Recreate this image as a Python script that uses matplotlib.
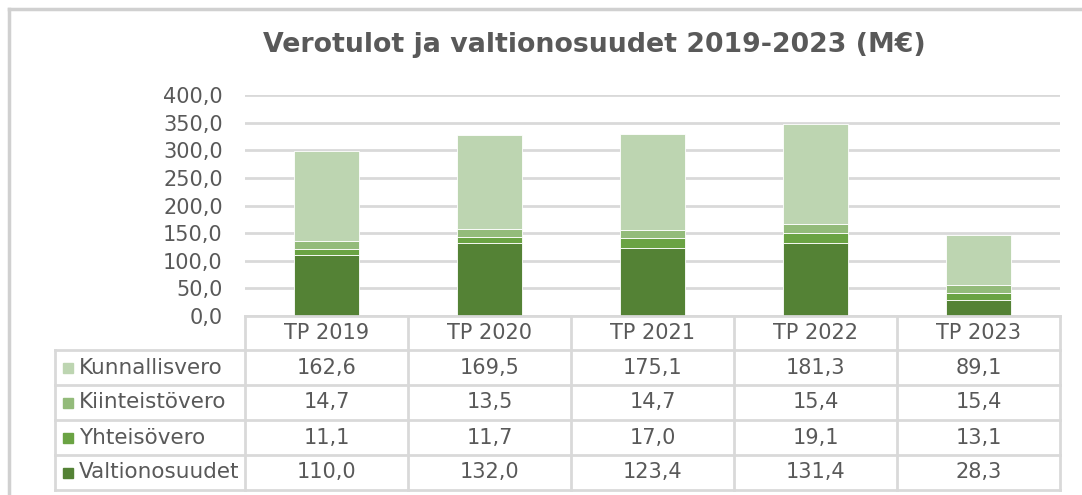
import matplotlib
matplotlib.use("Agg")
import matplotlib.pyplot as plt
from matplotlib.transforms import blended_transform_factory
from matplotlib.lines import Line2D
from matplotlib.patches import Rectangle

categories = ["TP 2019", "TP 2020", "TP 2021", "TP 2022", "TP 2023"]
series_names = ["Valtionosuudet", "Yhteisövero", "Kiinteistövero", "Kunnallisvero"]
valtionosuudet = [110.0, 132.0, 123.4, 131.4, 28.3]
yhteisovero = [11.1, 11.7, 17.0, 19.1, 13.1]
kiinteistovero = [14.7, 13.5, 14.7, 15.4, 15.4]
kunnallisvero = [162.6, 169.5, 175.1, 181.3, 89.1]
series_values = [valtionosuudet, yhteisovero, kiinteistovero, kunnallisvero]
colors = ["#548235", "#6AA343", "#93BB7A", "#BDD5B1"]
yticks = [0, 50, 100, 150, 200, 250, 300, 350, 400]

TXT = "#595959"
GRID = "#D9D9D9"
W, H = 1082, 495
FS = 15
plt.rcParams['font.family'] = ['DejaVu Sans']

fig = plt.figure(figsize=(W / 100, H / 100), dpi=100)

def fx(px):
    return px / W

def fy(py):
    return 1 - py / H

ax = fig.add_axes([fx(245), fy(316), fx(1060) - fx(245), fy(95) - fy(316)])
ax.set_xlim(-0.5, len(categories) - 0.5)
ax.set_ylim(0, 400)

bottom = [0.0] * len(categories)
for name, vals, c in zip(series_names, series_values, colors):
    ax.bar(range(len(categories)), vals, bottom=bottom, width=0.4, color=c,
           edgecolor="white", linewidth=0.6, label=name, zorder=3)
    bottom = [b + v for b, v in zip(bottom, vals)]

ax.set_yticks(yticks)
ax.set_yticklabels([f"{v:.1f}".replace(".", ",") for v in yticks], color=TXT, fontsize=FS)
ax.tick_params(axis="y", length=0, pad=16)
ax.set_xticks([])
ax.grid(axis="y", color=GRID, linewidth=2, zorder=0)
for s in ax.spines.values():
    s.set_visible(False)

# Title
fig.text(fx(594), fy(45), "Verotulot ja valtionosuudet 2019-2023 (M€)", ha="center", va="center",
         fontsize=19.3, fontweight="bold", color=TXT)

# Outer frame (left and top)
fig.add_artist(Line2D([fx(9), fx(9)], [fy(9), 0], transform=fig.transFigure, color="#D0D0D0", lw=2.5))
fig.add_artist(Line2D([fx(9), 1], [fy(9), fy(9)], transform=fig.transFigure, color="#D0D0D0", lw=2.5))

# Data table
bt = blended_transform_factory(ax.transData, fig.transFigure)
n = len(categories)
row_tops = [316, 350, 385, 420, 455, 490]
for i in range(n + 1):
    x = i - 0.5
    fig.add_artist(Line2D([x, x], [fy(316), fy(490)], transform=bt, color=GRID, lw=2, clip_on=False))
fig.add_artist(Line2D([-0.5, n - 0.5], [fy(316), fy(316)], transform=bt, color=GRID, lw=2, clip_on=False))
for y in row_tops[1:]:
    fig.add_artist(Line2D([fx(55), fx(1060)], [fy(y), fy(y)], transform=fig.transFigure, color=GRID, lw=2))
fig.add_artist(Line2D([fx(55), fx(55)], [fy(350), fy(490)], transform=fig.transFigure, color=GRID, lw=2))

for i, cat in enumerate(categories):
    fig.text(i, fy(333), cat, transform=bt, ha="center", va="center", fontsize=FS, color=TXT)

rows = list(zip(series_names, series_values, colors))[::-1]
for r, (name, vals, c) in enumerate(rows):
    yc = (row_tops[r + 1] + row_tops[r + 2]) / 2
    fig.add_artist(Rectangle((fx(63), fy(yc + 5)), fx(10), fy(yc - 5) - fy(yc + 5),
                             transform=fig.transFigure, color=c))
    fig.text(fx(79), fy(yc), name, ha="left", va="center", fontsize=15.5, color=TXT)
    for i, v in enumerate(vals):
        fig.text(i, fy(yc), f"{v:.1f}".replace(".", ","), transform=bt, ha="center",
                 va="center", fontsize=FS, color=TXT)

fig.savefig("out.png", dpi=100)
